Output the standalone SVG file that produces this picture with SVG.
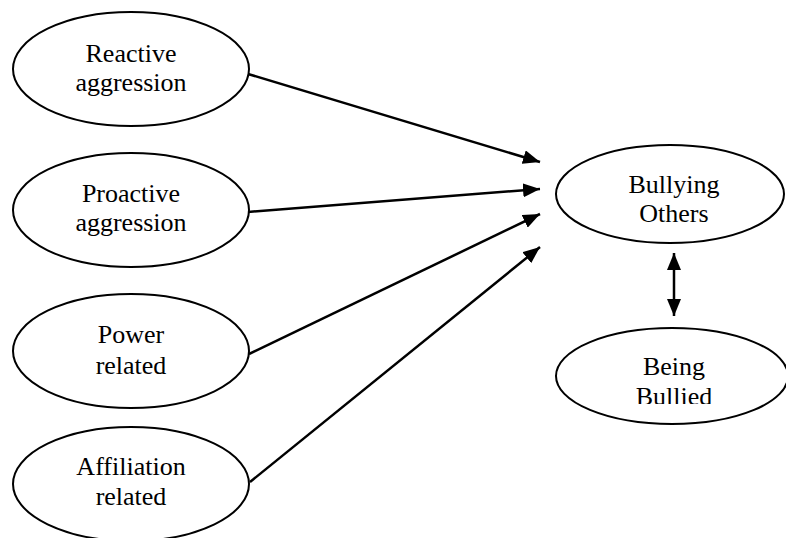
<svg xmlns="http://www.w3.org/2000/svg" width="786" height="538" viewBox="0 0 786 538">
<style>
.node ellipse{fill:#fff;stroke:#000;stroke-width:2}
.node text{font-family:"Liberation Serif","Times New Roman",serif;font-size:26px;fill:#000;text-anchor:middle}
.conn line{stroke:#000;stroke-width:2.5}
</style>
<defs>
<marker id="arr" viewBox="0 0 17 14" refX="17" refY="7" markerWidth="17" markerHeight="14" markerUnits="userSpaceOnUse" orient="auto-start-reverse">
<path d="M0,0 L17,7 L0,14 z" fill="#000"/>
</marker>
<clipPath id="clipBB"><rect x="540" y="320" width="246" height="84"/></clipPath>
</defs>
<rect width="786" height="538" fill="#fff"/>
<g id="reactive" class="node">
<ellipse cx="131" cy="69" rx="118" ry="57"/>
<text x="131" y="62">Reactive</text>
<text x="131" y="91">aggression</text>
</g>
<g id="proactive" class="node">
<ellipse cx="131" cy="210" rx="118" ry="57"/>
<text x="131" y="202">Proactive</text>
<text x="131" y="231">aggression</text>
</g>
<g id="power" class="node">
<ellipse cx="131" cy="351" rx="118" ry="57"/>
<text x="131" y="343">Power</text>
<text x="131" y="374">related</text>
</g>
<g id="affiliation" class="node">
<ellipse cx="131" cy="484" rx="118" ry="57"/>
<text x="131" y="475">Affiliation</text>
<text x="131" y="505">related</text>
</g>
<g id="bullying" class="node">
<ellipse cx="670" cy="194" rx="114" ry="49"/>
<text x="674" y="193">Bullying</text>
<text x="674" y="222">Others</text>
</g>
<g id="bullied" class="node">
<ellipse cx="672" cy="376" rx="116" ry="48"/>
<text x="674" y="375">Being</text>
<text x="674" y="405" clip-path="url(#clipBB)">Bullied</text>
</g>
<g id="connectors" class="conn">
<line x1="248" y1="74" x2="540" y2="162" marker-end="url(#arr)"/>
<line x1="248" y1="212" x2="540" y2="189" marker-end="url(#arr)"/>
<line x1="249" y1="354" x2="540" y2="214" marker-end="url(#arr)"/>
<line x1="250" y1="482" x2="540" y2="247" marker-end="url(#arr)"/>
<line x1="674" y1="253" x2="674" y2="316" marker-start="url(#arr)" marker-end="url(#arr)"/>
</g>
</svg>
